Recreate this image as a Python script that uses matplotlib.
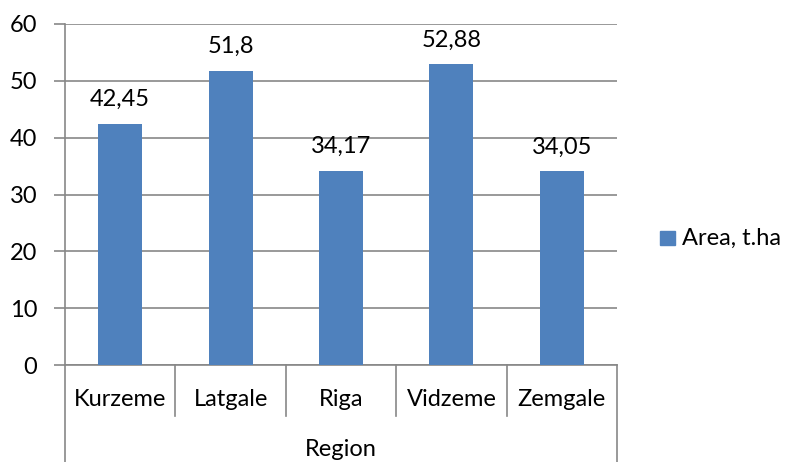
import matplotlib
matplotlib.use("Agg")
import matplotlib.pyplot as plt
from matplotlib.lines import Line2D
from matplotlib.patches import Rectangle

categories = ["Kurzeme", "Latgale", "Riga", "Vidzeme", "Zemgale"]
values = [42.45, 51.8, 34.17, 52.88, 34.05]
value_labels = ["42,45", "51,8", "34,17", "52,88", "34,05"]
series_name = "Area, t.ha"
axis_title = "Region"
yticks = [0, 10, 20, 30, 40, 50, 60]

plt.rcParams['font.family'] = ['Lato', 'DejaVu Sans']
FS = 17
W, H = 789, 462
fig = plt.figure(figsize=(W/100, H/100), dpi=100)
L, R, T, B = 65, 617, 24, 365
ax = fig.add_axes([L/W, 1-B/H, (R-L)/W, (B-T)/H])

bar_color = "#4F81BD"
grid_color = "#878787"
x = list(range(len(categories)))
ax.bar(x, values, width=0.4, color=bar_color, zorder=3)
ax.set_xlim(-0.5, len(categories)-0.5)
ax.set_ylim(0, 60)
ax.set_yticks(yticks)
ax.set_yticklabels([str(t) for t in yticks], fontsize=FS)
ax.yaxis.grid(True, color=grid_color, linewidth=1.2, zorder=0)
ax.tick_params(axis='y', length=8, color=grid_color, width=1.2, pad=12, labelcolor='black')
ax.set_xticks([])
for s in ['top', 'right']:
    ax.spines[s].set_visible(False)
ax.spines['left'].set_color(grid_color)
ax.spines['left'].set_linewidth(1.2)
ax.spines['bottom'].set_color(grid_color)
ax.spines['bottom'].set_linewidth(1.2)

for xi, v, lab in zip(x, values, value_labels):
    ax.annotate(lab, (xi, v), xytext=(0, 10), textcoords='offset points',
                ha='center', va='bottom', fontsize=FS)

# category separators and labels
sep_bottom = 416
for i in range(1, len(categories)):
    fig.add_artist(Line2D([(L + i*(R-L)/5)/W]*2, [1-B/H, 1-sep_bottom/H],
                          color=grid_color, linewidth=1.2))
for xs in (L, R):
    fig.add_artist(Line2D([xs/W]*2, [1-B/H, 0], color=grid_color, linewidth=1.2))
for i, c in enumerate(categories):
    fig.text((L + (i+0.5)*(R-L)/5)/W, 1-400/H, c, ha='center', va='center', fontsize=FS)
fig.text(((L+R)/2)/W, 1-449/H, axis_title, ha='center', va='center', fontsize=FS)

# legend
fig.add_artist(Rectangle((660/W, 1-245/H), 15/W, 14/H, color=bar_color,
                         transform=fig.transFigure))
fig.text(682/W, 1-238/H, series_name, ha='left', va='center', fontsize=FS)

fig.savefig("out.png", dpi=100)
